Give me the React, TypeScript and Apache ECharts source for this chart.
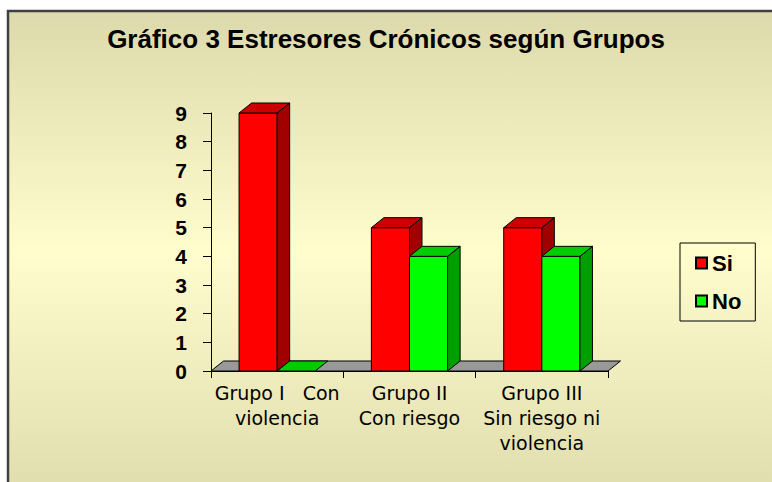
import React, { useEffect, useRef } from "react";
import * as echarts from "echarts";

const title = "Gráfico 3 Estresores Crónicos según Grupos";
const categories = ["Grupo I   Con\nviolencia", "Grupo II\nCon riesgo", "Grupo III\nSin riesgo ni\nviolencia"];
const seriesNames = ["Si", "No"];
const siValues = [9, 5, 5];
const noValues = [0, 4, 4];
const yTicks = [0, 9, 1]; // min, max, interval

const FONT = "'Liberation Sans', Arial, sans-serif";
const FONT2 = "'DejaVu Sans', Verdana, sans-serif";
const DX = 12.5;
const DY = 10;

function makeBarRender(idx: number, front: string, topC: string, side: string) {
  return (params: any, api: any) => {
    const cat = api.value(0);
    const v = api.value(1);
    const base = api.coord([cat, 0]);
    const top = api.coord([cat, v]);
    const band = api.size([1, 0])[0];
    const bw = band * 0.288;
    const x0 = idx === 0 ? base[0] - bw : base[0];
    const ty = top[1];
    const by = base[1];
    const children: any[] = [];
    const stroke = { stroke: "#000", lineWidth: 1 };
    if (by - ty > 0.5) {
      children.push({
        type: "rect",
        shape: { x: x0, y: ty, width: bw, height: by - ty },
        style: { fill: front, ...stroke },
      });
      children.push({
        type: "polygon",
        shape: {
          points: [
            [x0 + bw, ty],
            [x0 + bw, by],
            [x0 + bw + DX, by - DY],
            [x0 + bw + DX, ty - DY],
          ],
        },
        style: { fill: side, ...stroke },
      });
    }
    children.push({
      type: "polygon",
      shape: {
        points: [
          [x0, ty],
          [x0 + bw, ty],
          [x0 + bw + DX, ty - DY],
          [x0 + DX, ty - DY],
        ],
      },
      style: { fill: topC, ...stroke },
    });
    return { type: "group", children };
  };
}

export default function App() {
  const ref = useRef<HTMLDivElement>(null);
  useEffect(() => {
    if (!ref.current) return;
    const chart = echarts.init(ref.current, undefined, { renderer: "svg" });
    const floorRender = (params: any, api: any) => {
      const band = api.size([1, 0])[0];
      const first = api.coord([0, 0]);
      const last = api.coord([categories.length - 1, 0]);
      const xl = first[0] - band / 2;
      const xr = last[0] + band / 2;
      const y = first[1];
      return {
        type: "polygon",
        shape: {
          points: [
            [xl, y],
            [xr, y],
            [xr + DX, y - DY],
            [xl + DX, y - DY],
          ],
        },
        style: { fill: "#999999", stroke: "#000", lineWidth: 1 },
      };
    };
    chart.setOption({
      animation: false,
      backgroundColor: "#ffffff",
      graphic: [
        {
          type: "rect",
          z: -10,
          shape: { x: 8, y: 11, width: 800, height: 500 },
          style: {
            fill: new echarts.graphic.LinearGradient(0, 0, 0, 1, [
              { offset: 0, color: "#DCD9AC" },
              { offset: 0.48, color: "#FFFDCC" },
              { offset: 1, color: "#DDDAAC" },
            ]),
            stroke: "#404040",
            lineWidth: 2.5,
          },
        },
      ],
      title: {
        text: title,
        left: "center",
        top: 26,
        padding: 0,
        textStyle: { fontFamily: FONT, fontSize: 26, fontWeight: "bold", color: "#000" },
      },
      legend: {
        orient: "vertical",
        left: 680,
        top: 243,
        padding: [9, 14, 9, 15],
        itemGap: 16,
        itemWidth: 11,
        itemHeight: 11,
        borderColor: "#000",
        borderWidth: 1,
        textStyle: { fontFamily: FONT, fontSize: 22, fontWeight: "bold", color: "#000", lineHeight: 22 },
        data: [
          { name: seriesNames[0], icon: "rect", itemStyle: { color: "#FF0000", borderColor: "#000", borderWidth: 2 } },
          { name: seriesNames[1], icon: "rect", itemStyle: { color: "#00FF00", borderColor: "#000", borderWidth: 2 } },
        ],
      },
      grid: { left: 211, top: 113, width: 397, height: 258 },
      xAxis: {
        type: "category",
        data: categories,
        axisLine: { lineStyle: { color: "#000", width: 1 } },
        axisTick: { show: true, length: 7, lineStyle: { color: "#000" } },
        axisLabel: {
          interval: 0,
          margin: 9,
          fontFamily: FONT2,
          fontSize: 19,
          lineHeight: 25,
          color: "#000",
        },
        splitLine: { show: false },
      },
      yAxis: {
        type: "value",
        min: yTicks[0],
        max: yTicks[1],
        interval: yTicks[2],
        axisLine: { show: true, lineStyle: { color: "#000", width: 1 } },
        axisTick: { show: true, length: 8, lineStyle: { color: "#000" } },
        axisLabel: { margin: 24, fontFamily: FONT, fontSize: 21, fontWeight: "bold", color: "#000" },
        splitLine: { show: false },
      },
      series: [
        {
          type: "custom",
          name: "floor",
          z: 1,
          silent: true,
          renderItem: floorRender,
          data: [[0, 0]],
          encode: { x: 0, y: 1 },
        },
        {
          type: "custom",
          name: seriesNames[0],
          z: 2,
          itemStyle: { color: "#FF0000" },
          renderItem: makeBarRender(0, "#FF0000", "#CC0000", "#A00000"),
          data: siValues.map((v, i) => [i, v]),
          encode: { x: 0, y: 1 },
        },
        {
          type: "custom",
          name: seriesNames[1],
          z: 3,
          itemStyle: { color: "#00FF00" },
          renderItem: makeBarRender(1, "#00FF00", "#00CC00", "#009F00"),
          data: noValues.map((v, i) => [i, v]),
          encode: { x: 0, y: 1 },
        },
      ],
    });
    return () => chart.dispose();
  }, []);
  return (
    <div
      ref={ref}
      style={{ position: "fixed", left: 0, top: 0, width: 772, height: 482 }}
    />
  );
}
